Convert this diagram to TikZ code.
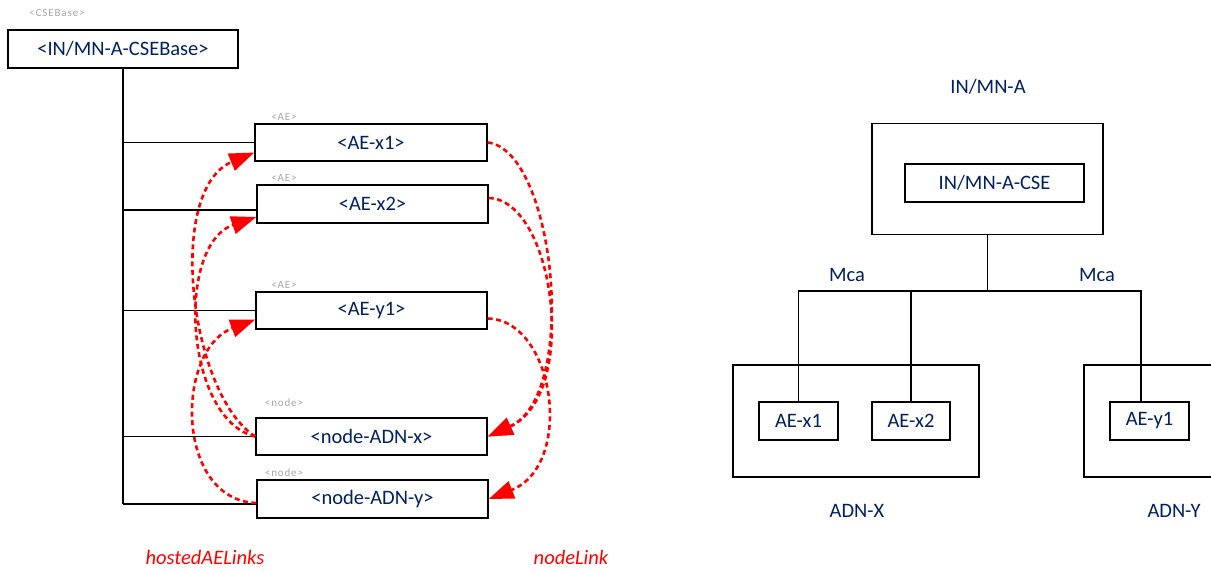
\documentclass[tikz,border=0pt]{standalone}
\usepackage{fontspec}
\setmainfont{Carlito}
\newfontfamily\tagfont[LetterSpace=8]{Carlito}
\usetikzlibrary{arrows.meta}
\definecolor{navy}{RGB}{0,32,96}
\definecolor{taggray}{RGB}{166,166,166}

\begin{document}
\begin{tikzpicture}[x=1pt,y=-1pt,
  resbox/.style={draw, line width=1.4pt, inner sep=0pt, text=navy, font=\fontsize{20.5}{24}\selectfont},
  tagtext/.style={text=taggray, inner sep=0pt, font=\tagfont\fontsize{11}{13}\selectfont},
  labeltext/.style={text=navy, inner sep=0pt, font=\fontsize{20.5}{24}\selectfont},
  linklabel/.style={text=red, inner sep=0pt, font=\itshape\fontsize{20.5}{24}\selectfont},
  tree/.style={line width=1.4pt},
  link/.style={red, line width=2.6pt, dash pattern=on 5pt off 3.5pt, -{Triangle[length=25pt,width=18pt]}}]

\useasboundingbox (0,0) rectangle (1211,572);
\clip (0,0) rectangle (1211,572);

% left one : resource tree
\node[tagtext] (csebtag) at (57,13) {<CSEBase>};
\node[resbox, minimum width=230pt, minimum height=38pt] (cseb) at (123,49) {<IN/MN-A-CSEBase>};

\node[tagtext] (aex1tag) at (284,117) {<AE>};
\node[resbox, minimum width=232pt, minimum height=37pt] (aex1) at (371,142.5) {<AE-x1>};

\node[tagtext] (aex2tag) at (284,178) {<AE>};
\node[resbox, minimum width=231pt, minimum height=38pt] (aex2) at (372.5,204) {<AE-x2>};

\node[tagtext] (aey1tag) at (284,285) {<AE>};
\node[resbox, minimum width=231pt, minimum height=37pt] (aey1) at (371.5,310.5) {<AE-y1>};

\node[tagtext] (adnxtag) at (284,403) {<node>};
\node[resbox, minimum width=231pt, minimum height=37pt] (adnx) at (371.5,436.5) {<node-ADN-x>};

\node[tagtext] (adnytag) at (284,473) {<node>};
\node[resbox, minimum width=231pt, minimum height=38pt] (adny) at (372.5,499) {<node-ADN-y>};

\foreach \n/\d in {aex1/0,aex2/-6,aey1/0,adnx/0,adny/-5}{
  \coordinate (b\n) at ([yshift=\d pt]\n.west);
  \draw[tree] (b\n) -- (cseb.south |- b\n);
}
\draw[tree] (cseb.south) -- (cseb.south |- badny);

% hostedAELinks
\draw[link] (adnx.west) .. controls (190,395) and (165,190) .. ([yshift=-10pt]aex1.west);
\draw[link] (adnx.west) .. controls (185,420) and (175,245) .. ([yshift=-13pt]aex2.west);
\draw[link] ([yshift=-4pt]adny.west) .. controls (175,500) and (175,350) .. ([yshift=-9pt]aey1.west);

% nodeLink
\draw[link] (aex1.east) .. controls (555,150) and (580,395) .. (adnx.east);
\draw[link] ([yshift=6pt]aex2.east) .. controls (555,200) and (580,395) .. (adnx.east);
\draw[link] ([yshift=-8pt]aey1.east) .. controls (555,320) and (575,465) .. (adny.east);

\node[linklabel] (hostlabel) at (205,557) {hostedAELinks};
\node[linklabel] (nodelabel) at (571,557) {nodeLink};

% right one : deployment
\node[labeltext] (inmalabel) at (988,87) {IN/MN-A};
\node[resbox, minimum width=231pt, minimum height=111pt] (inma) at (987.5,179) {};
\node[resbox, minimum width=179pt, minimum height=38pt] (cse) at (994.5,183) {IN/MN-A-CSE};

\node[resbox, minimum width=246pt, minimum height=112pt] (adnX) at (856,421) {};
\node[resbox, minimum width=180pt, minimum height=112pt] (adnY) at (1174,421) {};
\node[resbox, minimum width=79pt, minimum height=38pt] (aex1s) at (798.5,421) {AE-x1};
\node[resbox, minimum width=78pt, minimum height=38pt] (aex2s) at (911,421) {AE-x2};
\node[resbox, minimum width=79pt, minimum height=38pt] (aey1s) at (1149.5,421) {AE-y1};

\coordinate (bus) at (988,291);
\coordinate (ytap) at ([xshift=-8.5pt]aey1s.north);
\draw[tree] (inma.south) -- (inma.south |- bus);
\draw[tree] (aex1s.north) |- (ytap |- bus) -- (ytap);
\draw[tree] (aex2s.north) -- (aex2s.north |- bus);

\node[labeltext] (mcax) at (847,275) {Mca};
\node[labeltext] (mcay) at (1097,275) {Mca};
\node[labeltext] (adnXlabel) at (857,511) {ADN-X};
\node[labeltext] (adnYlabel) at (1174,511) {ADN-Y};

\end{tikzpicture}
\end{document}
